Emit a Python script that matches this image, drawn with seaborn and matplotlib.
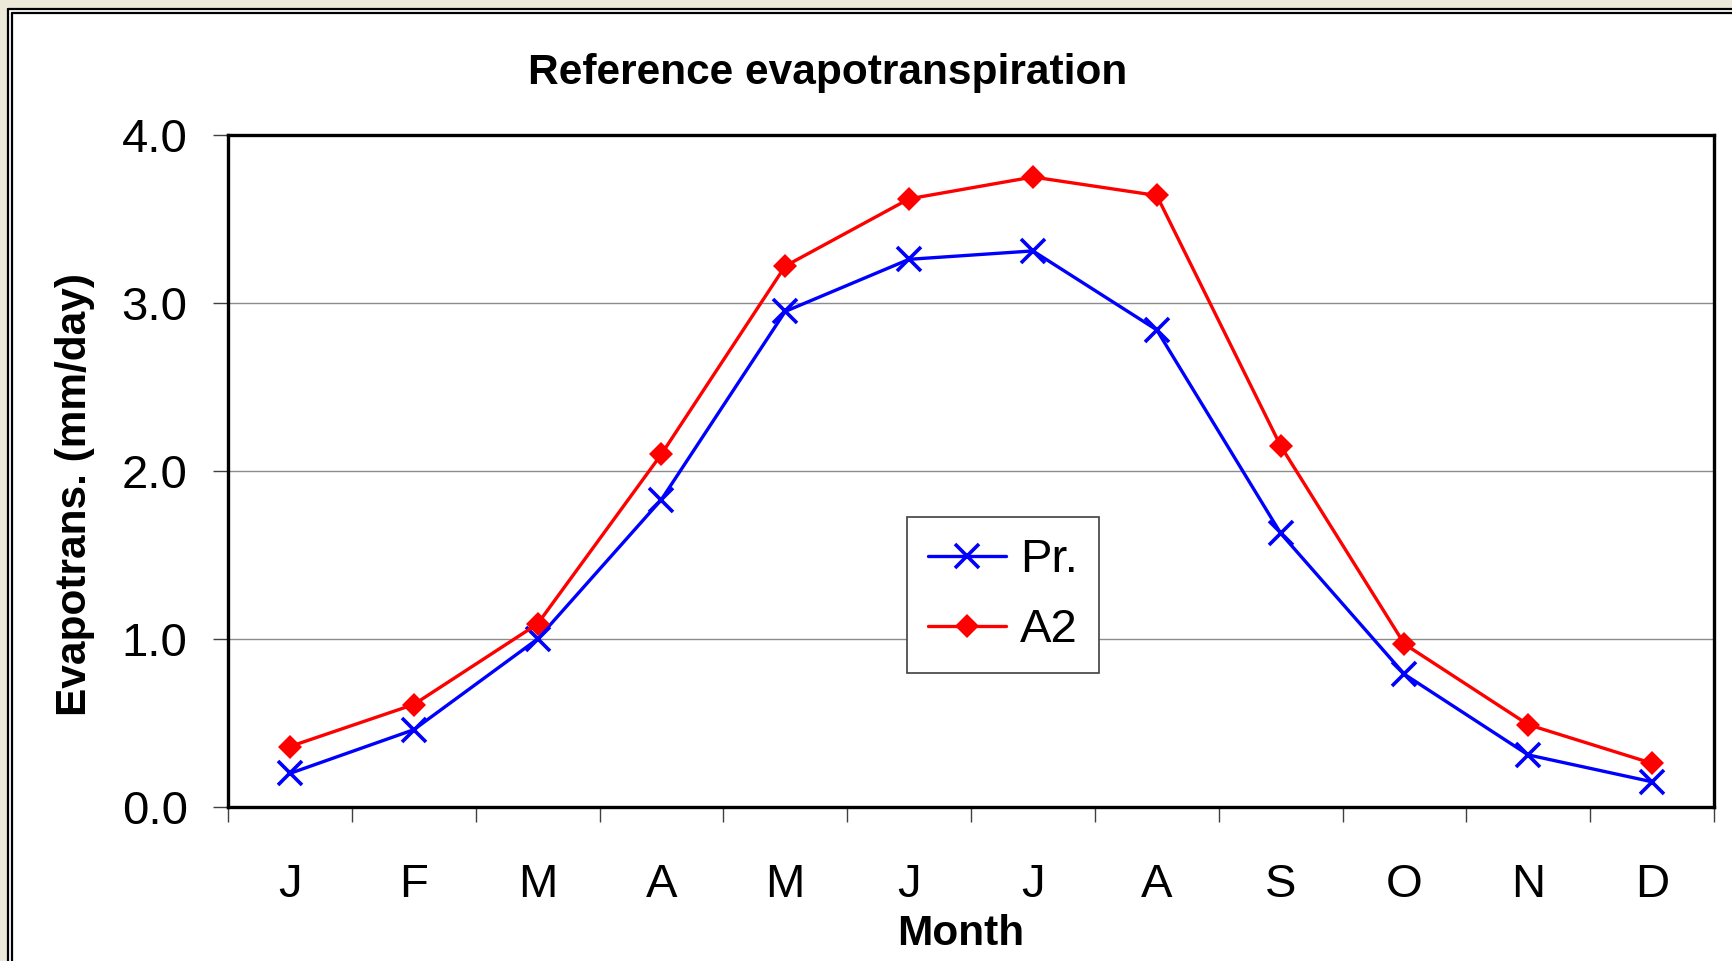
import matplotlib
matplotlib.use("Agg")
import matplotlib.pyplot as plt
import seaborn as sns
import pandas as pd
import numpy as np
from matplotlib.patches import Rectangle
from matplotlib.lines import Line2D

months = ["J", "F", "M", "A", "M", "J", "J", "A", "S", "O", "N", "D"]
pr_values = [0.20, 0.46, 1.00, 1.83, 2.95, 3.26, 3.31, 2.84, 1.63, 0.79, 0.31, 0.15]
a2_values = [0.36, 0.61, 1.09, 2.10, 3.22, 3.62, 3.75, 3.64, 2.15, 0.97, 0.49, 0.26]
y_ticks = [0.0, 1.0, 2.0, 3.0, 4.0]

sns.set_theme(style="white")
plt.rcParams['font.family'] = ['Liberation Sans', 'DejaVu Sans']
plt.rcParams['text.color'] = 'black'
plt.rcParams['xtick.color'] = 'black'
plt.rcParams['ytick.color'] = 'black'
plt.rcParams['axes.labelcolor'] = 'black'

W, H = 1732, 961
fig = plt.figure(figsize=(W / 100, H / 100), dpi=100)
fig.patch.set_facecolor("#ECE9D8")

def fx(px): return px / W
def fy(py): return 1 - py / H

fig.patches.append(Rectangle((fx(8), 0), 1, fy(9), transform=fig.transFigure,
                             facecolor="white", edgecolor="none", zorder=-10))
for off, lw in [(8, 1.6), (12, 1.6)]:
    fig.add_artist(Line2D([fx(off), fx(off)], [0, fy(off + 1)], transform=fig.transFigure,
                          color="black", lw=lw, zorder=-5))
    fig.add_artist(Line2D([fx(off), 1], [fy(off + 1), fy(off + 1)], transform=fig.transFigure,
                          color="black", lw=lw, zorder=-5))

ax = fig.add_axes([fx(228), fy(807), (1714 - 228) / W, (807 - 135) / H])
ax.set_facecolor("white")
ax.set_zorder(5)

df = pd.DataFrame({
    "pos": list(range(12)) * 2,
    "value": pr_values + a2_values,
    "series": ["Pr."] * 12 + ["A2"] * 12,
})

sns.lineplot(data=df[df.series == "Pr."], x="pos", y="value", ax=ax, color="#0000FF",
             marker="x", markersize=17, markeredgewidth=2.6, markeredgecolor="#0000FF",
             linewidth=2.4, label="Pr.")
sns.lineplot(data=df[df.series == "A2"], x="pos", y="value", ax=ax, color="#FF0000",
             marker="D", markersize=12, markeredgewidth=0, markeredgecolor="#FF0000",
             markerfacecolor="#FF0000", linewidth=2.4, label="A2")

ax.set_xlim(-0.5, 11.5)
ax.set_ylim(0, 4.0)
ax.set_yticks(y_ticks)
ax.set_yticklabels([f"{v:.1f}" for v in y_ticks], fontsize=34)
ax.set_xticks(np.arange(-0.5, 12, 1))
ax.set_xticklabels([])
ax.set_xticks(range(12), minor=True)
ax.set_xticklabels(months, minor=True, fontsize=34)
ax.tick_params(axis="x", which="minor", length=0, pad=40)
ax.tick_params(axis="x", which="major", length=11, width=1, color="#404040", direction="out", bottom=True)
ax.tick_params(axis="y", which="major", length=11, width=1, color="#404040", direction="out", left=True, pad=18)

for v in [1.0, 2.0, 3.0]:
    ax.axhline(v, color="#8C8C8C", lw=1.0, zorder=0)

for s in ax.spines.values():
    s.set_color("black")
    s.set_linewidth(2.4)

ax.set_xlabel("")
ax.set_ylabel("")

fig.text(fx(828), fy(73), "Reference evapotranspiration", ha="center", va="center",
         fontsize=30.5, fontweight="bold", color="black")
fig.text(fx(75), fy(494), "Evapotrans. (mm/day)", ha="center", va="center",
         rotation=90, fontsize=30.5, fontweight="bold", color="black")
fig.text(fx(961), fy(934), "Month", ha="center", va="center", fontsize=30.5,
         fontweight="bold", color="black")

leg = ax.legend(loc="upper left", bbox_to_anchor=((907 - 228) / (1714 - 228), (807 - 517) / (807 - 135)),
                fontsize=34, frameon=True, fancybox=False, edgecolor="#404040",
                handlelength=1.65, handletextpad=0.3, borderpad=0.45, labelspacing=0.55,
                borderaxespad=0)
leg.get_frame().set_linewidth(1.2)
leg.get_frame().set_alpha(1)

fig.savefig("out.png", dpi=100, facecolor=fig.get_facecolor())
